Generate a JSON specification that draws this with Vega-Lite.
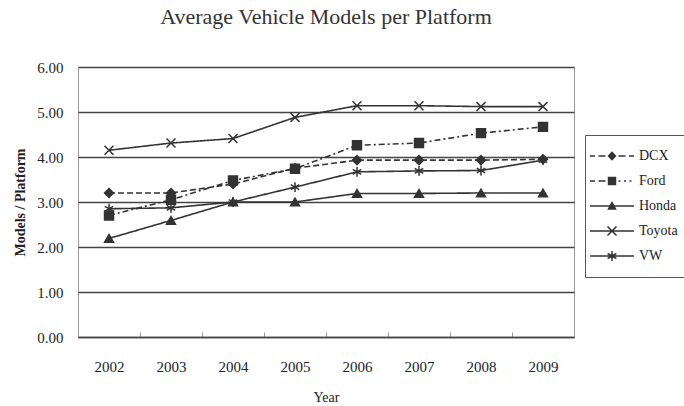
{
  "$schema": "https://vega.github.io/schema/vega-lite/v6.json",
  "width": 496,
  "height": 270,
  "autosize": {"type": "none"},
  "padding": {"left": 78, "top": 67, "right": 110, "bottom": 69},
  "background": "white",
  "title": {"text": "Average Vehicle Models per Platform", "fontSize": 22, "font": "Liberation Serif", "fontWeight": "normal", "color": "#333", "anchor": "middle", "offset": 31},
  "config": {
    "font": "Liberation Serif",
    "view": {"stroke": "#999", "strokeWidth": 1},
    "axis": {"labelFont": "Liberation Serif", "titleFont": "Liberation Serif", "labelColor": "#222", "titleColor": "#222", "labelFontSize": 15, "titleFontSize": 14}
  },
  "data": {"values": [
    {"year": "2002", "make": "DCX", "value": 3.2},
    {"year": "2003", "make": "DCX", "value": 3.2},
    {"year": "2004", "make": "DCX", "value": 3.4},
    {"year": "2005", "make": "DCX", "value": 3.75},
    {"year": "2006", "make": "DCX", "value": 3.93},
    {"year": "2007", "make": "DCX", "value": 3.93},
    {"year": "2008", "make": "DCX", "value": 3.93},
    {"year": "2009", "make": "DCX", "value": 3.95},
    {"year": "2002", "make": "Ford", "value": 2.7},
    {"year": "2003", "make": "Ford", "value": 3.05},
    {"year": "2004", "make": "Ford", "value": 3.48},
    {"year": "2005", "make": "Ford", "value": 3.74},
    {"year": "2006", "make": "Ford", "value": 4.26},
    {"year": "2007", "make": "Ford", "value": 4.31},
    {"year": "2008", "make": "Ford", "value": 4.53},
    {"year": "2009", "make": "Ford", "value": 4.67},
    {"year": "2002", "make": "Honda", "value": 2.19},
    {"year": "2003", "make": "Honda", "value": 2.59},
    {"year": "2004", "make": "Honda", "value": 3.0},
    {"year": "2005", "make": "Honda", "value": 3.0},
    {"year": "2006", "make": "Honda", "value": 3.19},
    {"year": "2007", "make": "Honda", "value": 3.19},
    {"year": "2008", "make": "Honda", "value": 3.2},
    {"year": "2009", "make": "Honda", "value": 3.2},
    {"year": "2002", "make": "Toyota", "value": 4.15},
    {"year": "2003", "make": "Toyota", "value": 4.31},
    {"year": "2004", "make": "Toyota", "value": 4.41},
    {"year": "2005", "make": "Toyota", "value": 4.88},
    {"year": "2006", "make": "Toyota", "value": 5.14},
    {"year": "2007", "make": "Toyota", "value": 5.14},
    {"year": "2008", "make": "Toyota", "value": 5.12},
    {"year": "2009", "make": "Toyota", "value": 5.12},
    {"year": "2002", "make": "VW", "value": 2.85},
    {"year": "2003", "make": "VW", "value": 2.87},
    {"year": "2004", "make": "VW", "value": 3.0},
    {"year": "2005", "make": "VW", "value": 3.33},
    {"year": "2006", "make": "VW", "value": 3.67},
    {"year": "2007", "make": "VW", "value": 3.69},
    {"year": "2008", "make": "VW", "value": 3.7},
    {"year": "2009", "make": "VW", "value": 3.93}
  ]},
  "encoding": {
    "x": {"field": "year", "type": "ordinal", "scale": {"type": "band", "paddingInner": 0, "paddingOuter": 0},
      "axis": {"title": "Year", "labelAngle": 0, "tickBand": "extent", "tickSize": -5, "tickColor": "#999", "domainColor": "#444", "domainWidth": 1.5, "labelPadding": 27, "titlePadding": 16, "titleFontWeight": "normal", "grid": false}},
    "y": {"field": "value", "type": "quantitative", "scale": {"domain": [0, 6]},
      "axis": {"title": "Models / Platform", "values": [0, 1, 2, 3, 4, 5, 6], "format": ".2f", "grid": true, "gridColor": "#444", "gridWidth": 1.5, "domain": false, "ticks": false, "labelPadding": 15, "titlePadding": 9, "titleFontWeight": "bold"}}
  },
  "layer": [
    {
      "mark": {"type": "line", "color": "#333"},
      "encoding": {
        "strokeDash": {"field": "make", "type": "nominal", "scale": {"domain": ["DCX", "Ford", "Honda", "Toyota", "VW"], "range": [[6, 3], [6, 3, 2, 3], [1, 0], [1, 0], [1, 0]]}, "legend": null},
        "strokeWidth": {"field": "make", "type": "nominal", "scale": {"domain": ["DCX", "Ford", "Honda", "Toyota", "VW"], "range": [1.6, 1.6, 2.4, 3, 2.4]}, "legend": null}
      }
    },
    {
      "mark": {"type": "point", "filled": true, "color": "#333", "stroke": "#333", "strokeWidth": 1.5, "size": 80, "opacity": 1},
      "encoding": {
        "shape": {"field": "make", "type": "nominal", "scale": {"domain": ["DCX", "Ford", "Honda", "Toyota", "VW"], "range": ["diamond", "square", "triangle-up", "M-1,-1L1,1M-1,1L1,-1", "M0,-1.1V1.1M-0.95,-0.55L0.95,0.55M-0.95,0.55L0.95,-0.55"]}, "legend": null}
      }
    },
    {
      "mark": {"type": "point", "filled": true, "color": "#333", "opacity": 0},
      "encoding": {
        "shape": {"field": "make", "type": "nominal",
          "scale": {"domain": ["DCX", "Ford", "Honda", "Toyota", "VW"], "range": [
            "M-4.4,-0.15H-3.4V0.15H-4.4ZM-2.7,-0.15H-1.3V0.15H-2.7ZM0,-0.95L0.9,0L0,0.95L-0.9,0ZM1.3,-0.15H2.7V0.15H1.3ZM3.4,-0.15H4.4V0.15H3.4Z",
            "M-4.4,-0.15H-3.4V0.15H-4.4ZM-2.7,-0.15H-1.3V0.15H-2.7ZM-0.85,-0.85H0.85V0.85H-0.85ZM1.3,-0.15H1.7V0.15H1.3ZM2.4,-0.15H2.8V0.15H2.4ZM3.5,-0.15H3.9V0.15H3.5Z",
            "M-4.4,-0.15H4.4V0.15H-4.4ZM0,-1L0.95,0.75H-0.95Z",
            "M-4.4,-0.15H4.4V0.15H-4.4ZM-0.79,-1.01L1.01,0.79L0.79,1.01L-1.01,-0.79ZM-1.01,0.79L0.79,-1.01L1.01,-0.79L-0.79,1.01Z",
            "M-4.4,-0.15H4.4V0.15H-4.4ZM-0.15,-1H0.15V1H-0.15ZM-0.8,-0.63L0.95,0.37L0.8,0.63L-0.95,-0.37ZM-0.95,0.37L0.8,-0.63L0.95,-0.37L-0.8,0.63Z"
          ]},
          "legend": {"orient": "none", "legendX": 507, "legendY": 68, "title": null, "symbolSize": 100, "symbolStrokeWidth": 0, "symbolFillColor": "#333", "symbolOpacity": 1, "symbolOffset": 6, "labelFont": "Liberation Serif", "labelFontSize": 14, "labelColor": "#222", "strokeColor": "#555", "fillColor": "white", "padding": 14, "rowPadding": 11, "labelOffset": 20}
        }
      }
    },
    {
      "data": {"values": [{"label": "Source: PWC 2003"}]},
      "mark": {"type": "text", "align": "right", "baseline": "alphabetic", "dx": 25, "dy": -11, "fontSize": 15, "font": "Liberation Serif", "color": "#222"},
      "encoding": {
        "x": {"datum": "2009", "type": "ordinal"},
        "y": {"datum": 6, "type": "quantitative"},
        "text": {"field": "label"}
      }
    }
  ],
  "resolve": {"scale": {"shape": "independent"}}
}
